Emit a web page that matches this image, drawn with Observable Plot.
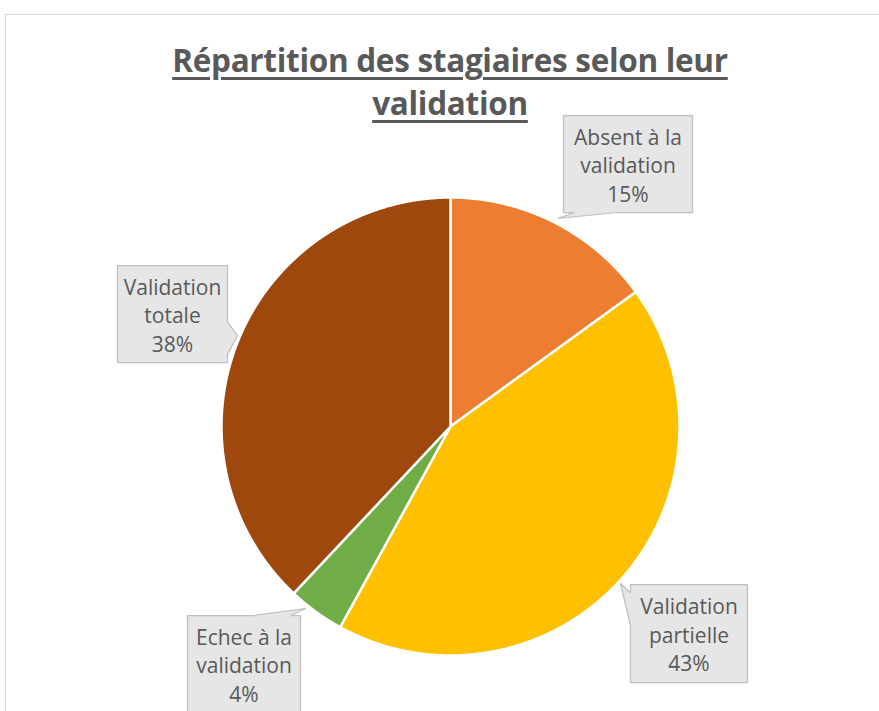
<!DOCTYPE html>
<html><head><meta charset="utf-8">
<script src="https://cdn.jsdelivr.net/npm/d3@7"></script>
<script src="https://cdn.jsdelivr.net/npm/@observablehq/plot@0.6"></script>
<style>
body{margin:0;background:#fff;width:879px;height:711px;overflow:hidden;position:relative;font-family:"Open Sans",sans-serif}
#frame{position:absolute;left:5px;top:14px;width:900px;height:720px;border:1px solid #D9D9D9;box-sizing:border-box}
#title{position:absolute;left:0;width:900px;top:38px;text-align:center;font-weight:bold;font-size:31.5px;line-height:43px;color:#595959;text-decoration:underline;text-decoration-thickness:2.5px;text-underline-offset:5px;letter-spacing:-0.3px;z-index:2}
#chart{position:absolute;left:0;top:0}
</style></head>
<body>
<div id="frame"></div>
<div id="chart"></div>
<div id="title">Répartition des stagiaires selon leur<br>validation</div>
<script>
// ---- data ----
const categories = ["Absent à la validation", "Validation partielle", "Echec à la validation", "Validation totale"];
const values = [15, 43, 4, 38];
const colors = ["#ED7D31", "#FFC000", "#70AD47", "#9E480E"];
const labelLines = [["Absent à la", "validation"], ["Validation", "partielle"], ["Echec à la", "validation"], ["Validation", "totale"]];

// ---- layout (pixels relative to the pie centre) ----
const R = 229;
const callouts = [
  {x0: 113, x1: 242, y0: -311, y1: -214, tx: 107, ty: -208},
  {x0: 180, x1: 297, y0: 158, y1: 256, tx: 170, ty: 157},
  {x0: -263, x1: -150, y0: 189, y1: 286, tx: -145, ty: 182},
  {x0: -333, x1: -223, y0: -161, y1: -64, tx: -213, ty: -91}
];

const total = d3.sum(values);
const pie = d3.pie().sort(null).value(d => d)(values);
const slices = pie.map((s, i) => {
  const pts = [{x: 0, y: 0}];
  const n = Math.max(2, Math.ceil((s.endAngle - s.startAngle) / 0.004));
  for (let j = 0; j <= n; j++) {
    const a = s.startAngle + (s.endAngle - s.startAngle) * j / n;
    pts.push({x: R * Math.sin(a), y: -R * Math.cos(a)});
  }
  pts.push({x: 0, y: 0});
  return pts;
});

function calloutShape(c) {
  const cx = (c.x0 + c.x1) / 2, cy = (c.y0 + c.y1) / 2, w = c.x1 - c.x0, h = c.y1 - c.y0;
  const nx = (c.tx - cx) / (w / 2), ny = (c.ty - cy) / (h / 2);
  const tip = {x: c.tx, y: c.ty};
  let pts;
  if (Math.abs(ny) >= Math.abs(nx)) {
    const f = c.tx < cx ? [1/12, 5/12] : [7/12, 11/12];
    const a = c.x0 + w * f[0], b = c.x0 + w * f[1];
    if (ny < 0) pts = [{x:c.x0,y:c.y0},{x:a,y:c.y0},tip,{x:b,y:c.y0},{x:c.x1,y:c.y0},{x:c.x1,y:c.y1},{x:c.x0,y:c.y1}];
    else pts = [{x:c.x0,y:c.y0},{x:c.x1,y:c.y0},{x:c.x1,y:c.y1},{x:b,y:c.y1},tip,{x:a,y:c.y1},{x:c.x0,y:c.y1}];
  } else {
    const f = c.ty < cy ? [1/12, 5/12] : [7/12, 11/12];
    const a = c.y0 + h * f[0], b = c.y0 + h * f[1];
    if (nx < 0) pts = [{x:c.x0,y:c.y0},{x:c.x1,y:c.y0},{x:c.x1,y:c.y1},{x:c.x0,y:c.y1},{x:c.x0,y:b},tip,{x:c.x0,y:a}];
    else pts = [{x:c.x0,y:c.y0},{x:c.x1,y:c.y0},{x:c.x1,y:a},tip,{x:c.x1,y:b},{x:c.x1,y:c.y1},{x:c.x0,y:c.y1}];
  }
  pts.push(pts[0]);
  return pts;
}

const labels = categories.map((c, i) => ({
  x: (callouts[i].x0 + callouts[i].x1) / 2,
  y: (callouts[i].y0 + callouts[i].y1) / 2,
  text: [...labelLines[i], Math.round(values[i] / total * 100) + "%"].join("\n")
}));

const chart = Plot.plot({
  width: 879, height: 711, margin: 0,
  x: {domain: [-450, 429], range: [0, 879], axis: null},
  y: {domain: [-426, 285], range: [0, 711], axis: null},
  marks: [
    ...slices.map((pts, i) => Plot.line(pts, {x: "x", y: "y", fill: colors[i], stroke: "white", strokeWidth: 2.5, strokeLinejoin: "round", curve: "linear"})),
    ...callouts.map(c => Plot.line(calloutShape(c), {x: "x", y: "y", fill: "#E6E6E6", stroke: "#BFBFBF", strokeWidth: 1.25, strokeLinejoin: "miter", curve: "linear"})),
    Plot.text(labels, {x: "x", y: "y", text: "text", fontSize: 21, lineHeight: 1.36, fill: "#595959", fontFamily: "Open Sans", lineAnchor: "middle"})
  ]
});
chart.style.background = "transparent";
document.getElementById("chart").appendChild(chart);
</script>
</body></html>
